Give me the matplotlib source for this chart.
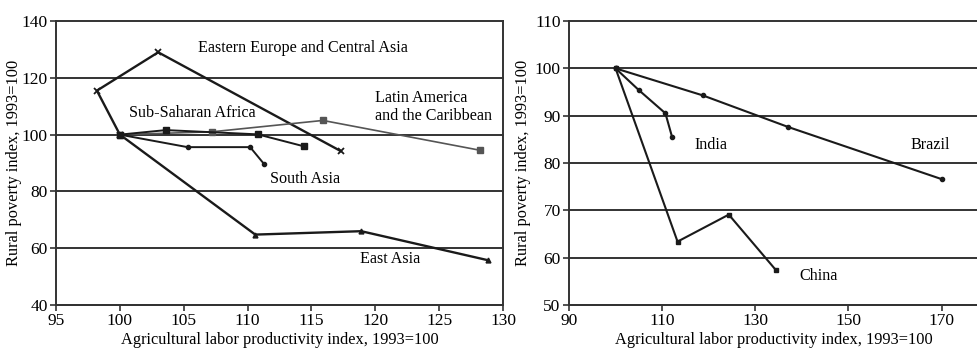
import matplotlib
matplotlib.use('Agg')
import matplotlib.pyplot as plt

plt.rcParams['font.family'] = ['Liberation Serif', 'DejaVu Serif']

# regional series: (productivity index, poverty index), base year first
eca_x = [100, 98.2, 103.0, 117.3]
eca_y = [100, 115.5, 129.0, 94.2]
east_asia_x = [100, 110.6, 118.9, 128.8]
east_asia_y = [100, 64.8, 66.0, 55.8]
ssa_x = [100, 103.6, 110.8, 114.4]
ssa_y = [100, 101.6, 100.1, 95.9]
lac_x = [100, 107.2, 115.9, 128.2]
lac_y = [100, 101.0, 105.0, 94.5]
south_asia_x = [100, 105.3, 110.2, 111.3]
south_asia_y = [100, 95.6, 95.6, 89.6]

# country series
brazil_x = [100, 118.7, 137.1, 170.0]
brazil_y = [100, 94.3, 87.6, 76.6]
india_x = [100, 105.0, 110.7, 112.1]
india_y = [100, 95.4, 90.5, 85.6]
china_x = [100, 113.3, 124.3, 134.4]
china_y = [100, 63.4, 69.1, 57.4]

left_yticks = [40, 60, 80, 100, 120, 140]
left_xticks = [95, 100, 105, 110, 115, 120, 125, 130]
right_yticks = [50, 60, 70, 80, 90, 100, 110]
right_xticks = [90, 110, 130, 150, 170]

xlabel = 'Agricultural labor productivity index, 1993=100'
ylabel = 'Rural poverty index, 1993=100'

fig = plt.figure(figsize=(9.78, 3.51), dpi=100)
ax1 = fig.add_axes([0.0573, 0.131, 0.457, 0.809])
ax2 = fig.add_axes([0.5818, 0.131, 0.4182, 0.809])

grid_col = '#333333'
dark = '#1a1a1a'


def style(ax, xticks, yticks, xlim, ylim, right_spine, ylab_x):
    ax.set_xlim(xlim)
    ax.set_ylim(ylim)
    ax.set_xticks(xticks)
    ax.set_yticks(yticks)
    for y in yticks:
        ax.axhline(y, color=grid_col, lw=1.4, zorder=1, clip_on=False)
    ax.spines['top'].set_visible(False)
    ax.spines['right'].set_visible(right_spine)
    for s in ['left', 'bottom', 'right']:
        ax.spines[s].set_color(grid_col)
        ax.spines[s].set_linewidth(1.4)
    ax.tick_params(direction='out', length=4, width=1.2, color=grid_col,
                   labelsize=12.5, pad=2)
    ax.set_xlabel(xlabel, fontsize=11.8, labelpad=2)
    ax.set_ylabel(ylabel, fontsize=11.8)
    ax.yaxis.set_label_coords(ylab_x, 0.5)


style(ax1, left_xticks, left_yticks, (95, 130), (40, 140), True, -0.077)
style(ax2, right_xticks, right_yticks, (90, 177.8), (50, 110), False, -0.092)

ax1.plot(eca_x, eca_y, color=dark, lw=1.7, marker='x', ms=5, mew=1.3, zorder=3)
ax1.plot(east_asia_x, east_asia_y, color=dark, lw=1.7, marker='^', ms=3.5, zorder=3)
ax1.plot(lac_x, lac_y, color='#555555', lw=1.2, marker='s', ms=4, zorder=3)
ax1.plot(ssa_x, ssa_y, color=dark, lw=1.4, marker='s', ms=4, zorder=3)
ax1.plot(south_asia_x, south_asia_y, color=dark, lw=1.4, marker='o', ms=3, zorder=3)

lab = dict(fontsize=11.6, ha='center', va='center')
ax1.text(114.3, 130.5, 'Eastern Europe and Central Asia', **lab)
ax1.text(120.0, 109.7, 'Latin America\nand the Caribbean', fontsize=11.6,
         ha='left', va='center', linespacing=1.1)
ax1.text(105.65, 107.5, 'Sub-Saharan Africa', **lab)
ax1.text(114.5, 84.3, 'South Asia', **lab)
ax1.text(121.2, 56.1, 'East Asia', **lab)

ax2.plot(brazil_x, brazil_y, color=dark, lw=1.5, marker='o', ms=3, zorder=3)
ax2.plot(india_x, india_y, color=dark, lw=1.5, marker='o', ms=3, zorder=3)
ax2.plot(china_x, china_y, color=dark, lw=1.5, marker='s', ms=3.5, zorder=3)

ax2.text(120.4, 83.8, 'India', **lab)
ax2.text(167.6, 83.8, 'Brazil', **lab)
ax2.text(143.6, 56.1, 'China', **lab)

fig.savefig('out.png', dpi=100)
